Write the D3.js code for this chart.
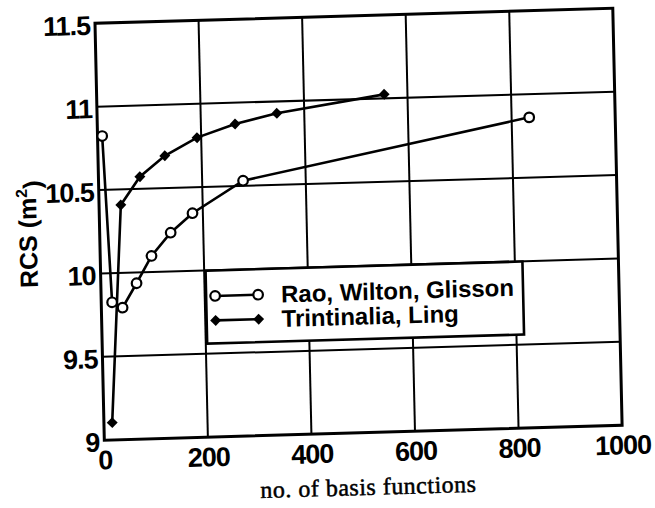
<!DOCTYPE html>
<html>
<head>
<meta charset="utf-8">
<script src="https://cdn.jsdelivr.net/npm/d3@7"></script>
<style>
  body { margin: 0; background: #fff; }
  svg { display: block; }
</style>
</head>
<body>
<svg id="chart" width="655" height="508"></svg>
<script>
// RCS versus number of basis functions for two element formulations
const raoX = [9, 21, 41, 69, 99, 137, 180, 279, 834];
const raoY = [10.823, 9.825, 9.791, 9.935, 10.096, 10.232, 10.345, 10.531, 10.861];
const tlX = [16, 42, 80, 129, 192, 266, 347, 555];
const tlY = [9.104, 10.407, 10.573, 10.694, 10.797, 10.872, 10.929, 11.024];

const xTicks = [0, 200, 400, 600, 800, 1000];
const yTicks = [9, 9.5, 10, 10.5, 11, 11.5];
const yTickLabels = ["9", "9.5", "10", "10.5", "11", "11.5"];
const seriesNames = ["Rao, Wilton, Glisson", "Trintinalia, Ling"];

const W = 518, H = 417;
const svg = d3.select("#chart");

// the whole figure sits slightly tilted on the page
const g = svg.append("g")
  .attr("transform", "matrix(0.99958,-0.02897,0.02234,0.99975,95,23.3)");

const x = d3.scaleLinear().domain([0, 1000]).range([0, W]);
const y = d3.scaleLinear().domain([9, 11.5]).range([H, 0]);

// grid
g.append("g").selectAll("line")
  .data(xTicks.slice(1, -1)).join("line")
  .attr("x1", d => x(d)).attr("x2", d => x(d))
  .attr("y1", 0).attr("y2", H)
  .attr("stroke", "#000").attr("stroke-width", 2);
g.append("g").selectAll("line")
  .data(yTicks.slice(1, -1)).join("line")
  .attr("x1", 0).attr("x2", W)
  .attr("y1", d => y(d)).attr("y2", d => y(d))
  .attr("stroke", "#000").attr("stroke-width", 2);

// frame
g.append("rect")
  .attr("x", 0).attr("y", 0).attr("width", W).attr("height", H)
  .attr("fill", "none").attr("stroke", "#000").attr("stroke-width", 3);

// axes
const tickFont = "'Liberation Sans', Arial, sans-serif";
const xAxis = g.append("g").attr("transform", `translate(0,${H})`)
  .call(d3.axisBottom(x).tickValues(xTicks).tickSize(0).tickPadding(10).tickFormat(d3.format("d")));
const yAxis = g.append("g")
  .call(d3.axisLeft(y).tickValues(yTicks).tickSize(0).tickPadding(5)
    .tickFormat((d, i) => yTickLabels[i]));
[xAxis, yAxis].forEach(a => {
  a.select(".domain").remove();
  a.selectAll("text")
    .attr("fill", "#000")
    .style("font-family", tickFont)
    .style("font-weight", "bold")
    .style("font-size", "27px")
    .style("letter-spacing", "-1px");
});
yAxis.selectAll("text").attr("dy", "0.4em");

// axis titles
const yTitle = g.append("text")
  .attr("transform", "translate(-63,209) rotate(-90)")
  .attr("text-anchor", "middle")
  .style("font-family", tickFont)
  .style("font-weight", "bold")
  .style("font-size", "25px");
yTitle.append("tspan").text("RCS (m");
yTitle.append("tspan").attr("dy", "-0.55em").style("font-size", "16px").text("2");
yTitle.append("tspan").attr("dy", "0.55em").text(")");

g.append("text")
  .attr("x", 263).attr("y", 479.4)
  .attr("text-anchor", "middle")
  .attr("stroke", "#000").attr("stroke-width", 0.5)
  .style("font-family", "'Liberation Serif', 'Times New Roman', serif")
  .style("font-size", "24px")
  .style("letter-spacing", "0.5px")
  .text("no. of basis functions");

// markers
const diamond = {
  draw(ctx, size) {
    const r = Math.sqrt(size / 2);
    ctx.moveTo(0, -r); ctx.lineTo(r, 0); ctx.lineTo(0, r); ctx.lineTo(-r, 0); ctx.closePath();
  }
};
const diamondPath = d3.symbol().type(diamond).size(60)();

const line = d3.line().x(d => x(d[0])).y(d => y(d[1]));
const rao = raoX.map((v, i) => [v, raoY[i]]);
const tl = tlX.map((v, i) => [v, tlY[i]]);

g.append("path").datum(rao).attr("d", line)
  .attr("fill", "none").attr("stroke", "#000").attr("stroke-width", 2.6);
g.append("path").datum(tl).attr("d", line)
  .attr("fill", "none").attr("stroke", "#000").attr("stroke-width", 2.6);

g.append("g").selectAll("circle").data(rao).join("circle")
  .attr("cx", d => x(d[0])).attr("cy", d => y(d[1])).attr("r", 4.8)
  .attr("fill", "#fff").attr("stroke", "#000").attr("stroke-width", 2.2);
g.append("g").selectAll("path").data(tl).join("path")
  .attr("transform", d => `translate(${x(d[0])},${y(d[1])})`)
  .attr("d", diamondPath).attr("fill", "#000");

// legend
const leg = g.append("g");
leg.append("rect")
  .attr("x", 105).attr("y", 250.5).attr("width", 317).attr("height", 73)
  .attr("fill", "#fff").attr("stroke", "#000").attr("stroke-width", 2.6);
const rows = [276, 300.5];
rows.forEach((ry, i) => {
  leg.append("line").attr("x1", 114).attr("x2", 157).attr("y1", ry).attr("y2", ry)
    .attr("stroke", "#000").attr("stroke-width", 2.6);
  [114, 157].forEach(mx => {
    if (i === 0) {
      leg.append("circle").attr("cx", mx).attr("cy", ry).attr("r", 4.8)
        .attr("fill", "#fff").attr("stroke", "#000").attr("stroke-width", 2.2);
    } else {
      leg.append("path").attr("transform", `translate(${mx},${ry})`)
        .attr("d", diamondPath).attr("fill", "#000");
    }
  });
  leg.append("text")
    .attr("x", 180).attr("y", ry + 8.5)
    .style("font-family", tickFont)
    .style("font-weight", "bold")
    .style("font-size", "24px")
    .text(seriesNames[i]);
});
</script>
</body>
</html>
